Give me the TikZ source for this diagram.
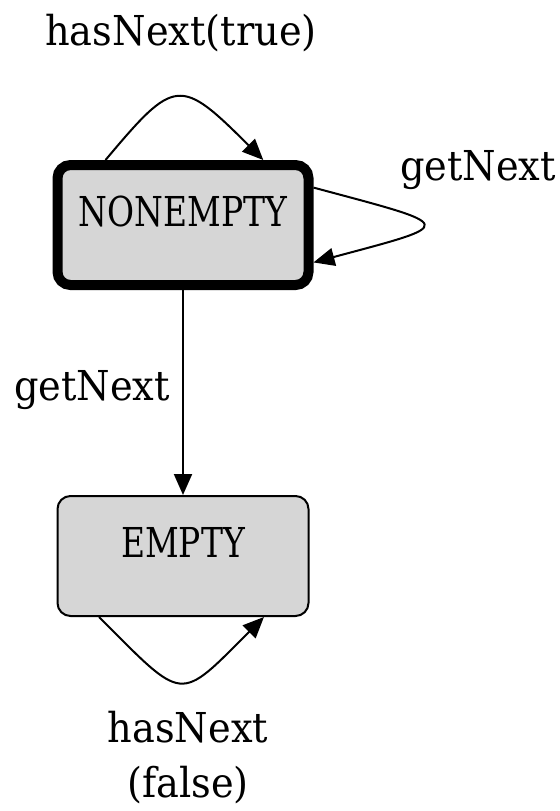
\documentclass[tikz,border=0pt]{standalone}
\usepackage{fontspec}
\setmainfont{DejaVu Serif}
\newfontfamily\statefont{DejaVu Serif}[FakeStretch=0.8]
\newfontfamily\edgefont{DejaVu Serif}[FakeStretch=0.93]
\usepackage{xcolor}
\definecolor{statefill}{RGB}{214,214,214}
\usetikzlibrary{arrows.meta,positioning,calc}

\begin{document}
\begin{tikzpicture}[
  x=0.5pt, y=0.5pt,
  state/.style = {rectangle, draw, fill=statefill, rounded corners=6.5pt,
                  line width=1pt, inner sep=0pt, minimum width=125.5pt,
                  text height=30.5pt, text depth=29.5pt,
                  font=\statefont\fontsize{20.6}{24}\selectfont},
  cur/.style   = {line width=5pt},
  lbl/.style   = {inner sep=0pt, align=center,
                  font=\edgefont\fontsize{20.6}{27.5}\selectfont},
  arr/.style   = {-{Triangle[length=10.5pt,width=9pt]}, line width=1pt},
]
\useasboundingbox (0,0) rectangle (560,-811);

\node[state,cur] (nonempty) at (183,-225) {NONEMPTY};
\node[state]     (empty)    at (183,-556) {EMPTY};

\draw[arr] (nonempty.140) to[out=50, in=135, out distance=54pt, in distance=59pt] (nonempty.39);
\draw[arr] (nonempty.16) to[out=-15, in=15, distance=75pt] (nonempty.-16);
\draw[arr] (nonempty) -- (empty);
\draw[arr] (empty.216) to[out=-45, in=-135, distance=61pt] (empty.-37);

\node[lbl, anchor=base] (lbltrue)  at (181,-45)  {hasNext(true)};
\node[lbl, anchor=base] (lblself)  at (478,-180) {getNext};
\node[lbl, anchor=base] (lbldown)  at (92,-400)  {getNext};
\node[lbl, anchor=base] (lblfalse) at (188,-797) {hasNext\\(false)};
\end{tikzpicture}
\end{document}
